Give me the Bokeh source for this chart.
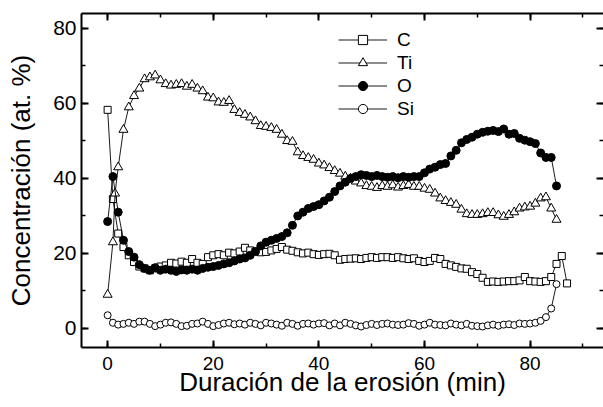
from bokeh.plotting import figure
from bokeh.models import Range1d, LinearAxis, SingleIntervalTicker, Legend, LegendItem, CustomJSTickFormatter
from bokeh.embed import file_html
from bokeh.resources import INLINE

# time (min)
t = [0, 1, 2, 3, 4, 5, 6, 7, 8, 9, 10, 11, 12, 13, 14, 15, 16, 17, 18, 19,
     20, 21, 22, 23, 24, 25, 26, 27, 28, 29, 30, 31, 32, 33, 34, 35, 36, 37, 38, 39,
     40, 41, 42, 43, 44, 45, 46, 47, 48, 49, 50, 51, 52, 53, 54, 55, 56, 57, 58, 59,
     60, 61, 62, 63, 64, 65, 66, 67, 68, 69, 70, 71, 72, 73, 74, 75, 76, 77, 78, 79,
     80, 81, 82, 83, 84, 85]
t_C = t + [86, 87]
t_Ti = [0, 1, 1.4, 2, 3, 4, 5, 6, 7, 8, 9, 10, 11, 12, 13, 14, 15, 16, 17, 18, 19,
        20, 21, 22, 23, 24, 25, 26, 27, 28, 29, 30, 31, 32, 33, 34, 35, 36, 37, 38, 39,
        40, 41, 42, 43, 44, 45, 46, 47, 48, 49, 50, 51, 52, 53, 54, 55, 56, 57, 58, 59,
        60, 61, 62, 63, 64, 65, 66, 67, 68, 69, 70, 71, 72, 73, 74, 75, 76, 77, 78, 79,
        80, 81, 82, 83, 84, 85]

C = [58.3, 34.5, 25.3, 21.7, 19.5, 17.7, 16.5, 16.0, 15.5, 16.0,
     16.5, 16.8, 17.5, 17.3, 17.8, 17.5, 18.5, 17.5, 17.2, 19.0,
     19.5, 19.8, 19.5, 20.2, 20.0, 20.5, 21.5, 20.8, 20.5, 20.3,
     20.4, 20.8, 21.2, 21.7, 21.0, 20.7, 20.3, 20.0, 20.2, 19.8,
     19.6, 19.8, 19.9, 19.5, 18.3, 18.5, 18.6, 18.7, 18.5, 18.8,
     19.0, 18.8, 19.0, 19.0, 18.8, 19.0, 18.7, 18.5, 18.7, 18.0,
     17.7, 18.0, 18.8, 18.5, 17.2, 16.8, 16.4, 16.0, 15.9, 15.0,
     14.5, 13.5, 12.4, 12.5, 12.4, 12.5, 12.6, 12.6, 12.8, 13.7,
     12.6, 12.5, 12.4, 12.6, 13.7, 17.2, 19.3, 12.0]

Ti = [9.0, 23.0, 36.0, 43.0, 53.0, 59.0, 62.0, 64.0, 66.5, 67.0, 67.5,
      66.2, 65.2, 64.8, 65.0, 65.2, 64.5, 65.0, 64.0, 63.3, 61.6,
      61.4, 60.3, 60.2, 60.7, 58.3, 57.5, 57.0, 56.3, 55.3, 54.0,
      53.8, 53.5, 53.0, 51.7, 50.0, 49.8, 47.0, 46.0, 45.5, 45.0,
      44.0, 43.5, 42.8, 42.0, 41.3, 40.5, 40.0, 39.2, 38.7, 38.0,
      37.8, 37.5, 38.0, 37.8, 38.2, 37.6, 38.0, 38.3, 37.8, 37.8,
      37.3, 37.0, 36.0, 34.7, 34.0, 33.5, 33.0, 31.7, 30.5, 30.3,
      30.3, 30.5, 30.8, 30.8, 30.2, 29.8, 30.3, 31.0, 32.0, 32.3,
      32.5, 33.3, 34.7, 35.0, 32.0, 29.0]

O = [28.5, 40.5, 31.0, 23.5, 20.5, 19.0, 17.0, 16.0, 15.5, 16.2,
     15.5, 15.8, 15.5, 15.2, 15.6, 15.5, 15.8, 15.5, 16.0, 16.3,
     16.5, 16.8, 17.2, 17.5, 18.0, 18.5, 18.8, 19.5, 20.5, 22.0,
     23.0, 23.5, 24.0, 24.5, 25.5, 27.5, 30.0, 31.0, 32.0, 32.5,
     33.0, 34.0, 35.0, 36.5, 38.0, 39.0, 40.0, 40.5, 41.0, 40.8,
     40.5, 40.8, 40.5, 40.3, 40.5, 40.2, 40.5, 40.3, 40.5, 40.5,
     41.5, 42.5, 43.0, 43.7, 44.0, 46.0, 47.5, 49.5, 50.4, 51.0,
     51.8, 52.3, 52.6, 52.8, 52.5, 53.2, 51.8, 52.0, 50.7, 50.2,
     49.8, 49.3, 46.8, 45.6, 45.6, 38.0]

Si = [3.5, 1.5, 1.0, 1.2, 1.5, 1.2, 1.8, 1.8, 1.2, 0.6,
      1.0, 1.5, 1.6, 1.2, 0.6, 0.7, 1.2, 1.3, 1.8, 1.2,
      0.6, 0.9, 1.3, 1.5, 1.1, 1.3, 1.0, 1.5, 1.2, 0.8,
      1.5, 1.3, 1.0, 0.7, 1.5, 1.2, 0.7, 1.2, 1.3, 1.0,
      1.3, 1.4, 0.8, 1.3, 0.8, 1.5, 1.2, 0.8, 0.5, 0.9,
      1.2, 0.9, 1.2, 1.3, 1.0, 0.9, 1.0, 1.4, 1.2, 0.7,
      1.0, 1.5, 1.0, 0.9, 0.8, 1.3, 1.0, 0.8, 1.2, 0.7,
      0.6, 0.5, 0.8, 1.0, 0.7, 1.0, 1.1, 0.9, 1.3, 1.2,
      1.3, 1.5, 2.0, 3.0, 5.3, 11.8]

FONT = "Liberation Sans"

p = figure(width=603, height=407, output_backend="svg", toolbar_location=None,
           x_range=Range1d(-4.95, 93.9), y_range=Range1d(-5.1, 84),
           min_border_left=81, min_border_right=0, min_border_top=13, min_border_bottom=60,
           x_axis_label="Duración de la erosión (min)",
           y_axis_label="Concentración (at. %)")
p.xgrid.visible = False
p.ygrid.visible = False
p.outline_line_color = None
p.background_fill_color = "white"

xaxis = p.below[0]
yaxis = p.left[0]

xt = SingleIntervalTicker(interval=20, num_minor_ticks=2)
yt = SingleIntervalTicker(interval=20, num_minor_ticks=2)
xaxis.ticker = xt
yaxis.ticker = yt

blank = CustomJSTickFormatter(code="return ''")
top = LinearAxis(ticker=xt, formatter=blank)
right = LinearAxis(ticker=yt, formatter=blank)
p.add_layout(top, "above")
p.add_layout(right, "right")

for ax in [xaxis, yaxis, top, right]:
    ax.axis_line_width = 2
    ax.axis_line_color = "black"
    ax.major_tick_in = 7
    ax.major_tick_out = 0
    ax.minor_tick_in = 4
    ax.minor_tick_out = 0
    ax.major_tick_line_width = 2
    ax.minor_tick_line_width = 1.5
    ax.major_tick_line_color = "black"
    ax.minor_tick_line_color = "black"
    ax.major_label_text_font = FONT
    ax.major_label_text_color = "black"
    ax.axis_label_text_font = FONT
    ax.axis_label_text_font_style = "normal"
    ax.axis_label_text_color = "black"
    ax.axis_label_text_font_size = "26px"

for ax in [top, right]:
    ax.major_label_standoff = 0
    ax.axis_label_standoff = 0
    ax.major_label_text_font_size = "1px"
right.axis_line_color = None

xaxis.major_label_text_font_size = "19px"
xaxis.major_label_standoff = 9
xaxis.axis_label_standoff = -6
yaxis.major_label_text_font_size = "21px"
yaxis.major_label_standoff = 5
yaxis.axis_label_standoff = 14

lw = 0.9
lc = p.line(t_C, C, line_color="black", line_width=lw)
sc = p.scatter(t_C, C, marker="square", size=7, fill_color="white", line_color="black", line_width=1)
lt = p.line(t_Ti, Ti, line_color="black", line_width=lw)
st = p.scatter(t_Ti, Ti, marker="triangle", size=9, fill_color="white", line_color="black", line_width=1)
lo = p.line(t, O, line_color="black", line_width=lw)
so = p.scatter(t, O, marker="circle", size=8, fill_color="black", line_color="black", line_width=1)
ls = p.line(t, Si, line_color="black", line_width=lw)
ss = p.scatter(t, Si, marker="circle", size=7, fill_color="white", line_color="black", line_width=1)

legend = Legend(items=[LegendItem(label="C", renderers=[lc, sc]),
                       LegendItem(label="Ti", renderers=[lt, st]),
                       LegendItem(label="O", renderers=[lo, so]),
                       LegendItem(label="Si", renderers=[ls, ss])],
                location=(257, 227), orientation="vertical",
                glyph_width=49, glyph_height=23, label_height=23,
                label_standoff=10, padding=0, spacing=0, margin=0,
                border_line_color=None, background_fill_alpha=0,
                label_text_font=FONT, label_text_font_size="19px", label_text_color="black")
p.add_layout(legend, "center")

open("out.html", "w").write(file_html(p, INLINE))
